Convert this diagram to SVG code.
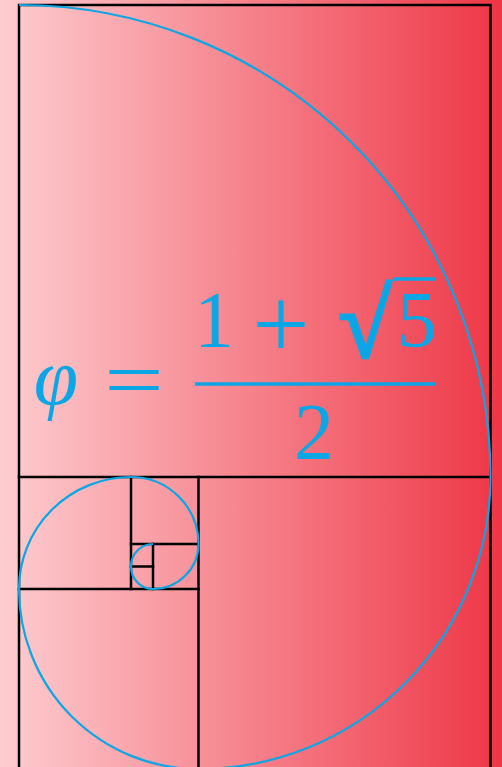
<svg xmlns="http://www.w3.org/2000/svg" width="502" height="767" viewBox="0 0 502 767">
<defs>
<linearGradient id="bg" x1="0" y1="0" x2="1" y2="0">
<stop offset="0" stop-color="#fdcdd0"/>
<stop offset="1" stop-color="#ee3646"/>
</linearGradient>
<style>
.ln{stroke:#000;stroke-width:2.5;fill:none;stroke-linecap:square}
.sp{stroke:#0aa6e6;stroke-width:2.2;fill:none}
.tx{fill:#0aa6e6;font-size:80px;text-anchor:middle}
.bar{stroke:#0aa6e6;stroke-width:3.5}
</style>
</defs>
<rect x="0" y="0" width="502" height="767" fill="url(#bg)"/>
<g id="grid">
<path class="ln" d="M19,770 V5 H490.5 V770"/>
<path class="ln" d="M19,477 H490.5"/>
<path class="ln" d="M198.5,477 V770"/>
<path class="ln" d="M19,589 H198.5"/>
<path class="ln" d="M131,477 V589"/>
<path class="ln" d="M131,544 H198.5"/>
<path class="ln" d="M153,544 V589"/>
<path class="ln" d="M131,566.5 H153"/>
</g>
<g id="spiral">
<path class="sp" d="M19,5 A471.5,472 0 0 1 490.5,477 A292,292 0 0 1 198.5,769 A179.5,180 0 0 1 19,589 A112,112 0 0 1 131,477 A67.5,67 0 0 1 198.5,544 A45.5,45 0 0 1 153,589 A22,22.5 0 0 1 131,566.5 A22,22.5 0 0 1 153,544"/>
</g>
<g id="formula" font-family="Liberation Serif, DejaVu Serif, serif">
<text class="tx" x="56" y="404" font-style="italic">φ</text>
<text class="tx" x="134" y="407" transform="translate(134,0) scale(1.32,1) translate(-134,0)">=</text>
<text class="tx" x="281" y="358" style="font-size:101px">+</text>
<text class="tx" x="214" y="347">1</text>
<text class="tx" x="365" y="357" style="font-size:96px" stroke="#0aa6e6" stroke-width="3">√</text>
<line class="bar" x1="393" y1="279" x2="435" y2="279"/>
<text class="tx" x="417" y="347">5</text>
<line class="bar" x1="195" y1="384" x2="435" y2="384"/>
<text class="tx" x="314" y="459">2</text>
</g>
</svg>
